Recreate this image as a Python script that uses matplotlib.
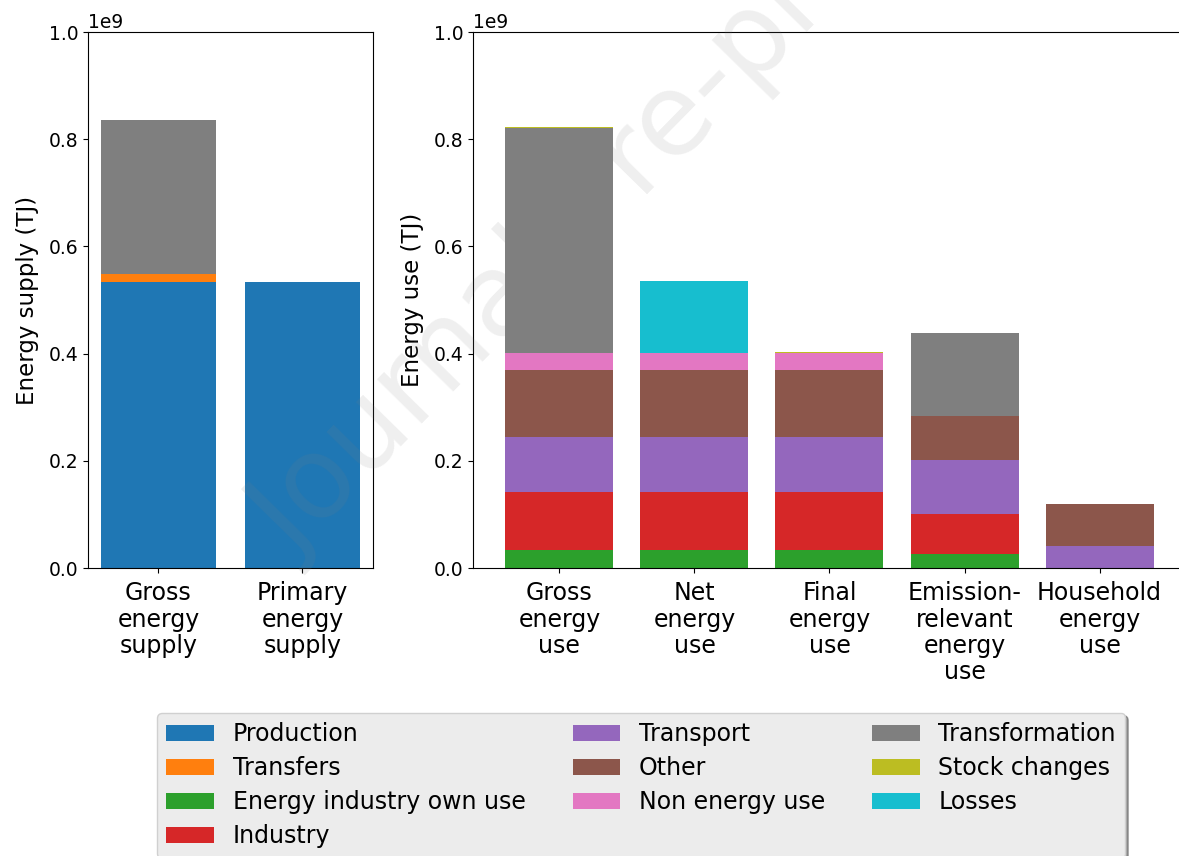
import numpy as np
import matplotlib.pyplot as plt

# supply side (left panel)
supply_cats = ["Gross\nenergy\nsupply", "Primary\nenergy\nsupply"]
supply_production = [0.534e9, 0.534e9]
supply_transfers = [0.015e9, 0.0]
supply_transformation = [0.287e9, 0.0]

# use side (right panel)
use_cats = ["Gross\nenergy\nuse", "Net\nenergy\nuse", "Final\nenergy\nuse",
            "Emission-\nrelevant\nenergy\nuse", "Household\nenergy\nuse"]
use_series = {
    "Energy industry own use": [0.034e9, 0.034e9, 0.034e9, 0.026e9, 0.0],
    "Industry":                [0.108e9, 0.108e9, 0.108e9, 0.075e9, 0.0],
    "Transport":               [0.102e9, 0.102e9, 0.102e9, 0.100e9, 0.041e9],
    "Other":                   [0.125e9, 0.125e9, 0.125e9, 0.083e9, 0.078e9],
    "Non energy use":          [0.032e9, 0.032e9, 0.032e9, 0.0, 0.0],
    "Transformation":          [0.420e9, 0.0, 0.0, 0.154e9, 0.0],
    "Stock changes":           [0.002e9, 0.001e9, 0.002e9, 0.0, 0.0],
    "Losses":                  [0.0, 0.133e9, 0.0, 0.0, 0.0],
}

colors = {
    "Production": "#1f77b4", "Transfers": "#ff7f0e",
    "Energy industry own use": "#2ca02c", "Industry": "#d62728",
    "Transport": "#9467bd", "Other": "#8c564b", "Non energy use": "#e377c2",
    "Transformation": "#7f7f7f", "Stock changes": "#bcbd22", "Losses": "#17becf",
}
legend_order = ["Production", "Transfers", "Energy industry own use", "Industry",
                "Transport", "Other", "Non energy use", "Transformation",
                "Stock changes", "Losses"]

fig = plt.figure(figsize=(11.79, 8.56), dpi=100)
axS = fig.add_axes([0.0746, 0.3364, 0.2417, 0.6262])
axU = fig.add_axes([0.4012, 0.3364, 0.6047, 0.6262])

handles = {}

# left: stacked supply bars
xs = np.arange(len(supply_cats))
bottom = np.zeros(len(supply_cats))
for name, vals in [("Production", supply_production),
                   ("Transfers", supply_transfers),
                   ("Transformation", supply_transformation)]:
    b = axS.bar(xs, vals, 0.8, bottom=bottom, color=colors[name], label=name)
    handles[name] = b
    bottom += np.array(vals)

# right: stacked use bars
xu = np.arange(len(use_cats))
bottom = np.zeros(len(use_cats))
for name, vals in use_series.items():
    b = axU.bar(xu, vals, 0.8, bottom=bottom, color=colors[name], label=name)
    handles[name] = b
    bottom += np.array(vals)

for ax, cats, x, lab in [(axS, supply_cats, xs, "Energy supply (TJ)"),
                         (axU, use_cats, xu, "Energy use (TJ)")]:
    ax.set_ylim(0, 1e9)
    ax.set_yticks(np.arange(0, 1.01, 0.2) * 1e9)
    ax.set_xticks(x)
    ax.set_xticklabels(cats, fontsize=17, linespacing=1.12)
    ax.tick_params(axis="x", pad=6)
    ax.tick_params(axis="y", labelsize=13.5)
    ax.yaxis.get_offset_text().set_fontsize(13.5)
    ax.set_ylabel(lab, fontsize=16.5, labelpad=7)

leg = fig.legend([handles[n] for n in legend_order], legend_order,
                 loc="upper left", bbox_to_anchor=(0.1332, 0.1671), ncol=3,
                 fontsize=17, shadow=True, fancybox=True, framealpha=1,
                 facecolor="#ececec", edgecolor="#d0d0d0",
                 borderaxespad=0, labelspacing=0.42, columnspacing=2.0)

# watermark
fig.text(0.513, 0.767, "Journal Pre-proof", fontsize=82, rotation=45.5,
         color="gray", alpha=0.13, ha="center", va="center", zorder=10)

fig.savefig("out.png", dpi=100)
